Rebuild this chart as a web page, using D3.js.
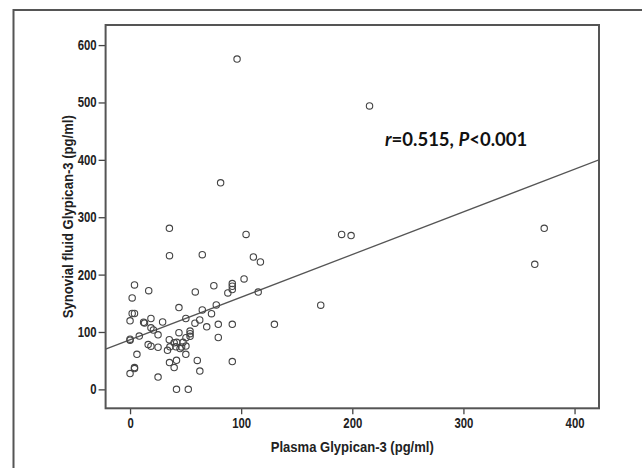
<!DOCTYPE html>
<html>
<head>
<meta charset="utf-8">
<script src="https://cdn.jsdelivr.net/npm/d3@7"></script>
<style>
  body { margin: 0; background: #fff; }
  .narrow { font-family: "Liberation Sans", Arial, sans-serif; font-weight: bold; fill: #222; }
</style>
</head>
<body>
<div id="chart"></div>
<script>
//DATA
//Plasma Glypican-3 (x) and Synovial fluid Glypican-3 (y)
const plasmaValues = [96.3, 215.5, 81.5, 35.4, 104.4, 190.4, 198.9, 372.7, 364.2, 35.5,
    65, 111, 117.3, 102.6, 92, 92, 92, 88, 75.4, 58.7,
    115.3, 171.6, 77.6, 44, 65, 73.3, 4, 1.9, 16.8, 1.9,
    4, 0, 12.2, 13, 18.8, 29.3, 50.2, 62.7, 58.4, 79.4,
    92, 129.9, 18.8, 21, 25.2, 8.3, 0, 0, 44, 54,
    54, 54, 69, 79.4, 35.3, 50.3, 39.7, 42, 47.7, 50.3,
    45, 41.3, 46.4, 33.7, 35.9, 16.3, 18.8, 25.2, 6.2, 50.2,
    35.5, 41.8, 39.7, 60.5, 92, 4, 4, 0, 25.2, 62.8,
    41.8, 52.4];
const synovialValues = [575.7, 494, 360, 280.6, 270, 270, 268, 280.6, 218, 233,
    234.8, 230.7, 222, 192.5, 184.3, 179.7, 174, 168, 180.6, 169.9,
    169.5, 146.7, 147.2, 142.6, 138.5, 131.9, 182, 159.4, 172, 132.2,
    132.2, 119.4, 117, 115.5, 123.5, 117.4, 123.5, 121, 115.3, 113.3,
    113.3, 113.3, 107.2, 103.5, 95, 92.8, 87.5, 85.8, 98.8, 101.5,
    97, 92.5, 109, 90.4, 86.5, 90, 81.2, 82, 82, 75.5,
    71, 74.1, 74, 68, 74.1, 78, 75.3, 73.4, 61, 61,
    46.7, 50.6, 38, 50.4, 48.4, 38, 36.3, 27.5, 21.4, 31.8,
    0, 0];

//Fit line as printed on the chart
const fitIntercept = 86.4;
const fitSlope = 0.743;

const xTicks = [0, 100, 200, 300, 400];
const yTicks = [0, 100, 200, 300, 400, 500, 600];
const xTitle = "Plasma Glypican-3 (pg/ml)";
const yTitle = "Synovial fluid Glypican-3 (pg/ml)";

//LAYOUT
let width = 642;
let height = 468;
let plot = { left: 105.6, top: 25, right: 599, bottom: 408.3 };

let svg = d3.select("#chart").append("svg")
    .attr("width", width)
    .attr("height", height);

//Outer frame (runs off the right and bottom edge)
svg.append("rect")
    .attr("x", 13.5)
    .attr("y", 10)
    .attr("width", 700)
    .attr("height", 500)
    .attr("fill", "none")
    .attr("stroke", "#555")
    .attr("stroke-width", 2);

//Scales
var x = d3.scaleLinear().domain([-22, 422]).range([plot.left, plot.right]);
var y = d3.scaleLinear().domain([-33, 635]).range([plot.bottom, plot.top]);

//Axes
var xAxis = svg.append("g")
    .attr("transform", "translate(0," + plot.bottom + ")")
    .call(d3.axisBottom(x).tickValues(xTicks).tickSize(6).tickPadding(4));
var yAxis = svg.append("g")
    .attr("transform", "translate(" + plot.left + ",0)")
    .call(d3.axisLeft(y).tickValues(yTicks).tickSize(7).tickPadding(2));

//Condensed bold labels like the original (no narrow font here, so squeeze)
[xAxis, yAxis].forEach(function (a) {
    a.select(".domain").remove();
    a.selectAll(".tick line").attr("stroke", "#444").attr("stroke-width", 1.3);
    a.selectAll(".tick text")
        .attr("class", "narrow")
        .attr("textLength", function (d) { return String(d).length * 6.3; })
        .attr("lengthAdjust", "spacingAndGlyphs")
        .style("font-size", "14px");
});

//Plot border
svg.append("rect")
    .attr("x", plot.left)
    .attr("y", plot.top)
    .attr("width", plot.right - plot.left)
    .attr("height", plot.bottom - plot.top)
    .attr("fill", "none")
    .attr("stroke", "#555")
    .attr("stroke-width", 2);

//Clip for the fit line
svg.append("defs").append("clipPath").attr("id", "plotClip")
    .append("rect")
    .attr("x", plot.left)
    .attr("y", plot.top)
    .attr("width", plot.right - plot.left)
    .attr("height", plot.bottom - plot.top);

//Fit line
var xd = x.domain();
svg.append("path")
    .attr("clip-path", "url(#plotClip)")
    .attr("d", d3.line()
        .x(function (d) { return x(d); })
        .y(function (d) { return y(fitIntercept + fitSlope * d); })(xd))
    .attr("fill", "none")
    .attr("stroke", "#555")
    .attr("stroke-width", 1.3);

//Points
svg.append("g").selectAll("circle")
    .data(plasmaValues)
    .enter()
    .append("circle")
    .attr("cx", function (d) { return x(d); })
    .attr("cy", function (d, i) { return y(synovialValues[i]); })
    .attr("r", 3.2)
    .attr("fill", "none")
    .attr("stroke", "#444")
    .attr("stroke-width", 1.1);

//Axis titles
svg.append("text")
    .attr("class", "narrow")
    .attr("x", (plot.left + plot.right) / 2)
    .attr("y", 452)
    .attr("text-anchor", "middle")
    .attr("textLength", 163)
    .attr("lengthAdjust", "spacingAndGlyphs")
    .style("font-size", "14px")
    .text(xTitle);

svg.append("text")
    .attr("class", "narrow")
    .attr("transform", "translate(72.5," + (plot.top + plot.bottom) / 2 + ") rotate(-90)")
    .attr("text-anchor", "middle")
    .attr("textLength", 203)
    .attr("lengthAdjust", "spacingAndGlyphs")
    .style("font-size", "14px")
    .text(yTitle);

//Correlation annotation
var note = svg.append("text")
    .attr("x", 385)
    .attr("y", 146)
    .style("font-family", "Lato, 'Open Sans', sans-serif")
    .style("font-weight", "bold")
    .style("font-size", "18.5px")
    .attr("fill", "#111");
note.append("tspan").style("font-style", "italic").text("r");
note.append("tspan").text("=0.515, ");
note.append("tspan").style("font-style", "italic").text("P");
note.append("tspan").text("<0.001");
</script>
</body>
</html>
